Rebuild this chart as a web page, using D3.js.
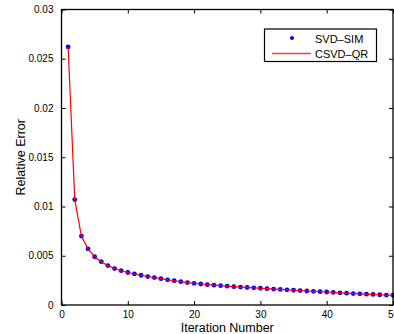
<!DOCTYPE html>
<html><head><meta charset="utf-8">
<script src="https://cdn.jsdelivr.net/npm/d3@7"></script>
<style>body{margin:0;background:#fff;} svg{display:block;font-family:"Liberation Sans",Arial,sans-serif;}</style>
</head><body>
<script>
const iterations = d3.range(1, 51);
const svdSim = [0.0262,0.0107,0.0070,0.0057,0.0049,0.0044,0.0040,0.0037,0.00348,0.00330,
0.00315,0.00302,0.00289,0.00278,0.00267,0.00256,0.00246,0.00237,0.00228,0.00220,
0.00213,0.00206,0.00201,0.00196,0.00191,0.00186,0.00182,0.00178,0.00174,0.00170,
0.00166,0.00162,0.00158,0.00154,0.00150,0.00146,0.00142,0.00139,0.00135,0.00132,
0.00128,0.00124,0.00120,0.00116,0.00113,0.00110,0.00107,0.00104,0.00101,0.00099];
const csvdQr = svdSim.slice();
const xTicks = [0,10,20,30,40,50];
const yTicks = [0,0.005,0.01,0.015,0.02,0.025,0.03];
const yTickLabels = ["0","0.005","0.01","0.015","0.02","0.025","0.03"];
const seriesNames = ["SVD\u2013SIM","CSVD\u2013QR"];

const W=394,H=334;
const m={l:61.5,t:9.5,r:393,b:305};
const svg=d3.select("body").append("svg").attr("width",W).attr("height",H);
const x=d3.scaleLinear().domain([0,50]).range([m.l,m.r]);
const y=d3.scaleLinear().domain([0,0.03]).range([m.b,m.t]);

// data: dots first, line on top
const g=svg.append("g");
g.selectAll("circle").data(iterations).enter().append("circle")
 .attr("cx",(d,i)=>x(d)).attr("cy",(d,i)=>y(svdSim[i])).attr("r",2.4).attr("fill","#0000ff");
g.append("path").datum(iterations)
 .attr("d",d3.line().x(d=>x(d)).y((d,i)=>y(csvdQr[i])))
 .attr("fill","none").attr("stroke","#ff0000").attr("stroke-width",1.2);

// axes
const fs="10px";
const xb=d3.axisBottom(x).tickValues(xTicks).tickSize(-4).tickPadding(6);
const xt=d3.axisTop(x).tickValues(xTicks).tickSize(-4).tickFormat("");
const yl=d3.axisLeft(y).tickValues(yTicks).tickSize(-4).tickPadding(8).tickFormat((d,i)=>yTickLabels[i]);
const yr=d3.axisRight(y).tickValues(yTicks).tickSize(-4).tickFormat("");
function style(sel){sel.select(".domain").remove();sel.selectAll("line").attr("stroke","#000");sel.selectAll("text").attr("fill","#000").style("font-size",fs).style("font-family","Liberation Sans, Arial, sans-serif");}
svg.append("g").attr("transform",`translate(0,${m.b})`).call(xb).call(style);
svg.append("g").attr("transform",`translate(0,${m.t})`).call(xt).call(style);
svg.append("g").attr("transform",`translate(${m.l},0)`).call(yl).call(style);
svg.append("g").attr("transform",`translate(${m.r},0)`).call(yr).call(style);
svg.append("rect").attr("x",m.l).attr("y",m.t).attr("width",m.r-m.l).attr("height",m.b-m.t)
 .attr("fill","none").attr("stroke","#000").attr("stroke-width",1.3);

// titles
svg.append("text").attr("x",(m.l+m.r)/2).attr("y",332).attr("text-anchor","middle")
 .style("font-size","12.5px").text("Iteration Number");
svg.append("text").attr("transform",`translate(24.5,${(m.t+m.b)/2}) rotate(-90)`).attr("text-anchor","middle")
 .style("font-size","12.5px").text("Relative Error");

// legend
const lg=svg.append("g");
lg.append("rect").attr("x",264.5).attr("y",29).attr("width",112).attr("height",32.5)
 .attr("fill","#fff").attr("stroke","#000").attr("stroke-width",1.2);
lg.append("circle").attr("cx",292).attr("cy",38).attr("r",2).attr("fill","#0000ff");
lg.append("line").attr("x1",272).attr("x2",311).attr("y1",53.5).attr("y2",53.5)
 .attr("stroke","#ff3b3b").attr("stroke-width",1.4);
lg.append("text").attr("x",315).attr("y",42.5).style("font-size","11px").text(seriesNames[0]);
lg.append("text").attr("x",315).attr("y",57.5).style("font-size","11px").text(seriesNames[1]);
</script>
</body></html>
